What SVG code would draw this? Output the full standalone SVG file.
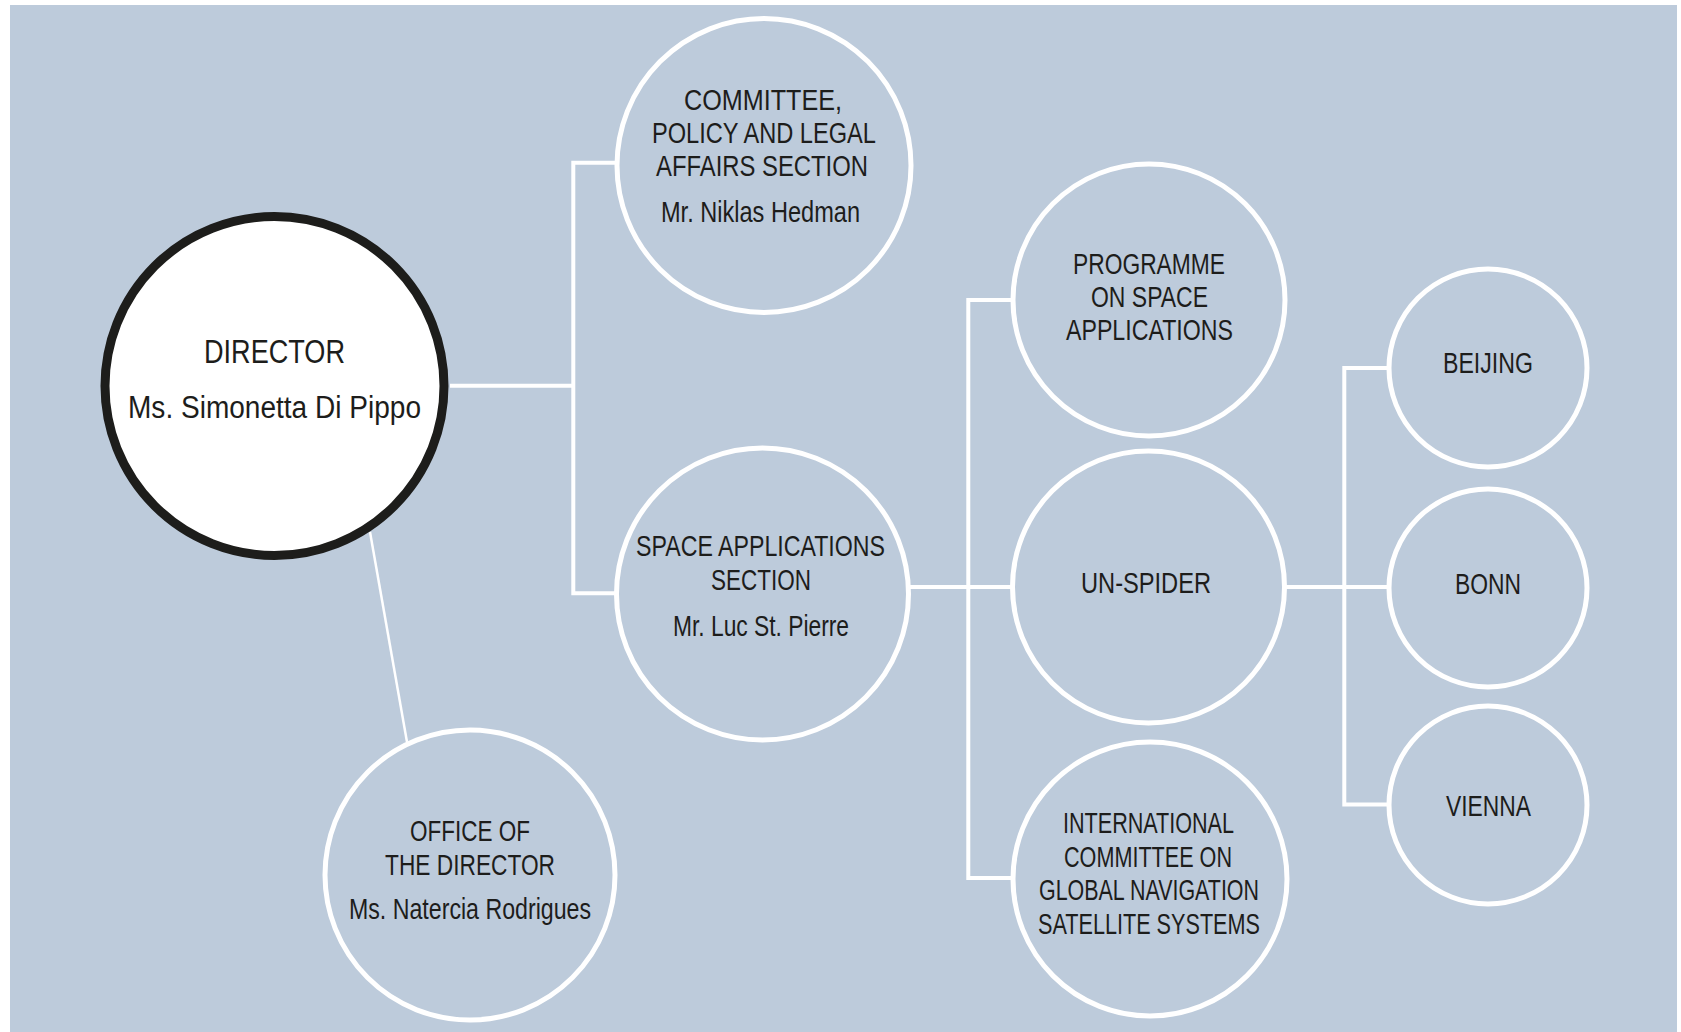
<svg xmlns="http://www.w3.org/2000/svg" width="1681" height="1032" viewBox="0 0 1681 1032">
<style>
.bg{fill:#bdcbdb}
.conn{fill:none;stroke:#ffffff;stroke-width:4;stroke-linejoin:miter}
.thin{fill:none;stroke:#ffffff;stroke-width:2.5}
.node{fill:#bdcbdb;stroke:#ffffff;stroke-width:5}
.dir{fill:#ffffff;stroke:#1d1d1b;stroke-width:9}
text{font-family:"Liberation Sans Narrow","Liberation Sans",Arial,sans-serif;fill:#1d1d1b}
.t{font-size:29px}
.n{font-size:29px}
.big{font-size:33px}
.bign{font-size:31px}
</style>
<rect class="bg" x="10" y="5" width="1667" height="1027"/>
<g id="connectors">
<path class="conn" d="M450 385.7 H573.3"/>
<path class="conn" d="M617 162.7 H573.3 V593.3 H617"/>
<path class="thin" d="M370 532 L407 742"/>
<path class="conn" d="M906 587 H1014"/>
<path class="conn" d="M1014 300 H968.3 V878 H1014"/>
<path class="conn" d="M1283 587 H1391"/>
<path class="conn" d="M1391 368 H1344.3 V804.5 H1391"/>
</g>
<g id="director">
<circle class="dir" cx="274.5" cy="386" r="169.5"/>
<text class="big" x="204" y="363" textLength="141" lengthAdjust="spacingAndGlyphs">DIRECTOR</text>
<text class="bign" x="128" y="418" textLength="293" lengthAdjust="spacingAndGlyphs">Ms. Simonetta Di Pippo</text>
</g>
<g id="committee">
<circle class="node" cx="764" cy="165.5" r="147"/>
<text class="t" x="684" y="110" textLength="158" lengthAdjust="spacingAndGlyphs">COMMITTEE,</text>
<text class="t" x="652" y="143" textLength="224" lengthAdjust="spacingAndGlyphs">POLICY AND LEGAL</text>
<text class="t" x="656" y="176" textLength="212" lengthAdjust="spacingAndGlyphs">AFFAIRS SECTION</text>
<text class="n" x="661" y="222" textLength="199" lengthAdjust="spacingAndGlyphs">Mr. Niklas Hedman</text>
</g>
<g id="space-applications">
<circle class="node" cx="762.5" cy="594" r="146"/>
<text class="t" x="636" y="556" textLength="249" lengthAdjust="spacingAndGlyphs">SPACE APPLICATIONS</text>
<text class="t" x="711" y="590" textLength="100" lengthAdjust="spacingAndGlyphs">SECTION</text>
<text class="n" x="673" y="636" textLength="176" lengthAdjust="spacingAndGlyphs">Mr. Luc St. Pierre</text>
</g>
<g id="office">
<circle class="node" cx="470" cy="875" r="145"/>
<text class="t" x="410" y="841" textLength="120" lengthAdjust="spacingAndGlyphs">OFFICE OF</text>
<text class="t" x="385" y="875" textLength="170" lengthAdjust="spacingAndGlyphs">THE DIRECTOR</text>
<text class="n" x="349" y="919" textLength="242" lengthAdjust="spacingAndGlyphs">Ms. Natercia Rodrigues</text>
</g>
<g id="programme">
<circle class="node" cx="1149" cy="300" r="136"/>
<text class="t" x="1073" y="274" textLength="152" lengthAdjust="spacingAndGlyphs">PROGRAMME</text>
<text class="t" x="1091" y="307" textLength="117" lengthAdjust="spacingAndGlyphs">ON SPACE</text>
<text class="t" x="1066" y="340" textLength="167" lengthAdjust="spacingAndGlyphs">APPLICATIONS</text>
</g>
<g id="un-spider">
<circle class="node" cx="1148.5" cy="587" r="136"/>
<text class="t" x="1081" y="593" textLength="130" lengthAdjust="spacingAndGlyphs">UN-SPIDER</text>
</g>
<g id="icg">
<circle class="node" cx="1150" cy="879" r="137"/>
<text class="t" x="1063" y="833" textLength="171" lengthAdjust="spacingAndGlyphs">INTERNATIONAL</text>
<text class="t" x="1064" y="867" textLength="168" lengthAdjust="spacingAndGlyphs">COMMITTEE ON</text>
<text class="t" x="1039" y="900" textLength="220" lengthAdjust="spacingAndGlyphs">GLOBAL NAVIGATION</text>
<text class="t" x="1038" y="934" textLength="222" lengthAdjust="spacingAndGlyphs">SATELLITE SYSTEMS</text>
</g>
<g id="beijing">
<circle class="node" cx="1488" cy="368" r="99"/>
<text class="t" x="1443" y="373" textLength="90" lengthAdjust="spacingAndGlyphs">BEIJING</text>
</g>
<g id="bonn">
<circle class="node" cx="1488" cy="588" r="99"/>
<text class="t" x="1455" y="594" textLength="66" lengthAdjust="spacingAndGlyphs">BONN</text>
</g>
<g id="vienna">
<circle class="node" cx="1488" cy="805" r="99"/>
<text class="t" x="1446" y="816" textLength="85" lengthAdjust="spacingAndGlyphs">VIENNA</text>
</g>
</svg>
